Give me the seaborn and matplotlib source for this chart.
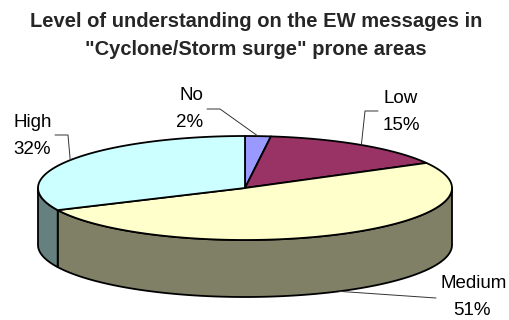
import numpy as np
import matplotlib
matplotlib.use("Agg")
import matplotlib.pyplot as plt
from matplotlib.patches import Polygon
import seaborn as sns

# Survey responses
categories = ["No", "Low", "Medium", "High"]
shares = [2, 15, 51, 32]
top_colors = ["#9999FF", "#993366", "#FFFFCC", "#CCFFFF"]
side_colors = ["#6B6BB3", "#6B2447", "#808066", "#668080"]
title_lines = ["Level of understanding on the EW messages in",
               "\"Cyclone/Storm surge\" prone areas"]

sns.set_style("white")
plt.rcParams["font.family"] = ["Liberation Sans", "DejaVu Sans"]

W, H = 509, 320
fig = plt.figure(figsize=(W / 100, H / 100), dpi=100)
ax = fig.add_axes([0, 0, 1, 1])
ax.set_xlim(0, W)
ax.set_ylim(H, 0)
ax.axis("off")

# 3-D pie geometry (pixel space, y grows downward)
cx, cy = 245.0, 188.0
a, b = 207.0, 52.0
depth = 57.0
edge_lw = 1.3


def rim(theta_deg, drop=0.0):
    t = np.radians(theta_deg)
    return cx + a * np.cos(t), cy - b * np.sin(t) + drop


# slice angle ranges, clockwise from 12 o'clock
total = float(sum(shares))
spans = []
start = 90.0
for v in shares:
    end = start - 360.0 * v / total
    spans.append((end, start))
    start = end

# side walls (only the front half, -180..0 degrees, is visible)
for (lo, hi), col in zip(spans, side_colors):
    for shift in (0.0, -360.0, 360.0):
        s_lo, s_hi = max(lo + shift, -180.0), min(hi + shift, 0.0)
        if s_hi <= s_lo:
            continue
        th = np.linspace(s_lo, s_hi, 120)
        top = [rim(t) for t in th]
        bot = [rim(t, depth) for t in th[::-1]]
        ax.add_patch(Polygon(top + bot, closed=True, facecolor=col,
                             edgecolor="black", lw=edge_lw, joinstyle="round",
                             zorder=2))

# top faces
for (lo, hi), col in zip(spans, top_colors):
    th = np.linspace(hi, lo, max(int((hi - lo) * 2), 4))
    pts = [(cx, cy)] + [rim(t) for t in th]
    ax.add_patch(Polygon(pts, closed=True, facecolor=col, edgecolor="black",
                         lw=edge_lw, joinstyle="round", zorder=3))

# data labels with leader lines: (name x, name baseline, value x, leader path, drop)
label_pos = {
    "No": (191, 100, 190, [(207, 109), (220, 109)], 0.0),
    "Low": (401, 103, 401, [(378, 111), (365, 111)], 0.0),
    "High": (33, 127, 32, [(55, 135), (68, 135)], 0.0),
    "Medium": (474, 288, 472, [(436, 298)], depth),
}
fs_label = 13.5
for name, v, (lo, hi) in zip(categories, shares, spans):
    tx, ty, vx, path, drop = label_pos[name]
    mid = 0.5 * (lo + hi)
    ex, ey = rim(mid, drop)
    xs = [p[0] for p in path] + [ex]
    ys = [p[1] for p in path] + [ey]
    ax.plot(xs, ys, color="#333333", lw=0.7, zorder=4)
    ax.text(tx, ty, name, ha="center", va="baseline", fontsize=fs_label,
            color="black", zorder=5)
    ax.text(vx, ty + 27, f"{v}%", ha="center", va="baseline",
            fontsize=fs_label, color="black", zorder=5)

# title
ax.text(256, 27, title_lines[0], ha="center", va="baseline", fontsize=14.5,
        fontweight="bold")
ax.text(256, 55, title_lines[1], ha="center", va="baseline", fontsize=14.5,
        fontweight="bold")

fig.savefig("out.png", dpi=100, facecolor="white")
